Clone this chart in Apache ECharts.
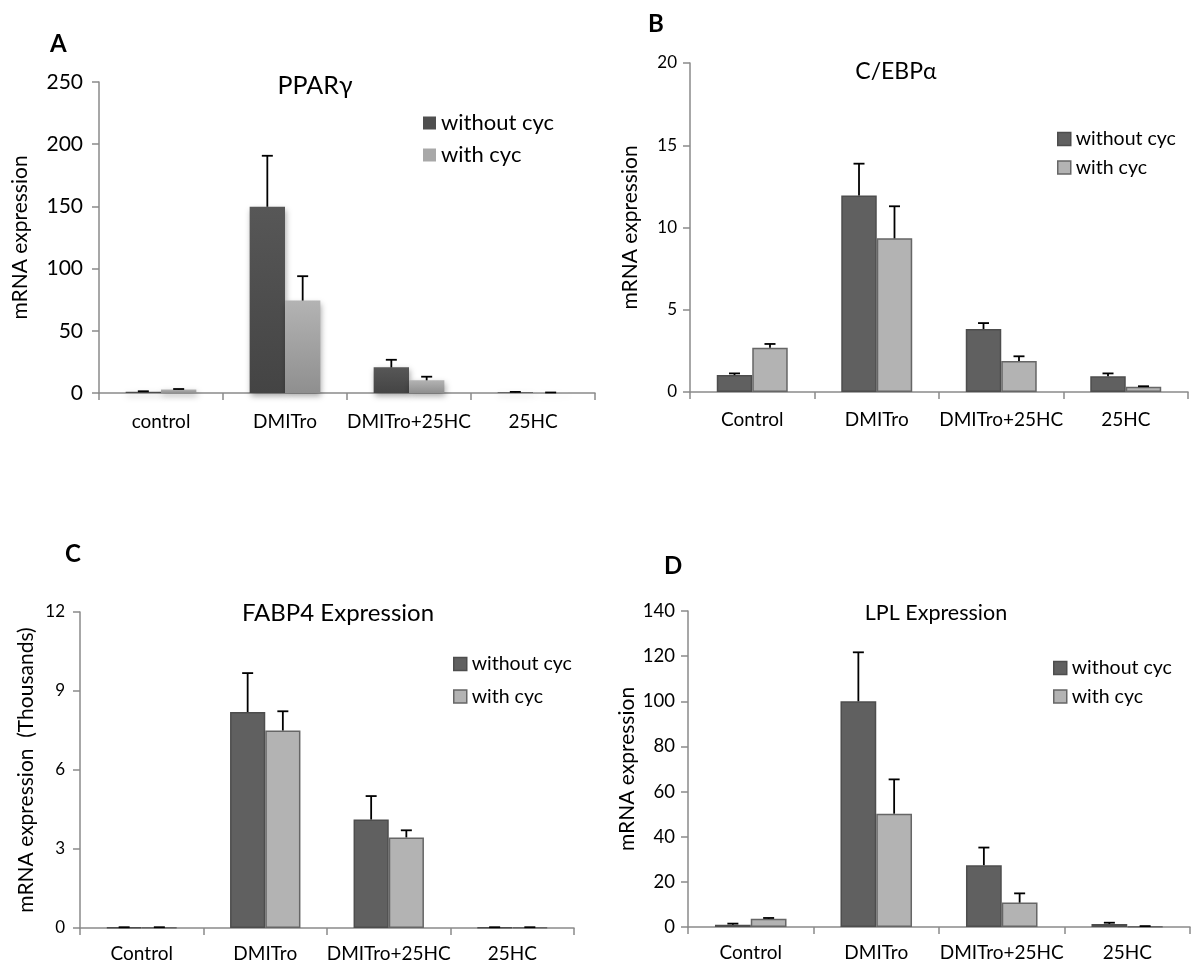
<!DOCTYPE html>
<html>
<head>
<meta charset="utf-8">
<script src="https://cdn.jsdelivr.net/npm/echarts@6/dist/echarts.min.js"></script>
<style>
html,body{margin:0;padding:0;background:#fff;}
#chart{width:1192px;height:966px;}
</style>
</head>
<body>
<div id="chart"></div>
<script>
// ---- data ----
const categoriesA = ['control', 'DMITro', 'DMITro+25HC', '25HC'];
const categoriesBCD = ['Control', 'DMITro', 'DMITro+25HC', '25HC'];
const seriesNames = ['without cyc', 'with cyc'];

const ppargWithout = [1.0, 149.7, 20.6, 0.6];
const ppargWithoutErr = [0.4, 41, 6.1, 0.3];
const ppargWith = [2.9, 74.3, 10.2, 0.3];
const ppargWithErr = [0.3, 19.6, 2.9, 0.1];

const cebpWithout = [1.03, 11.95, 3.83, 0.95];
const cebpWithoutErr = [0.1, 1.93, 0.36, 0.18];
const cebpWith = [2.69, 9.34, 1.88, 0.32];
const cebpWithErr = [0.23, 1.95, 0.29, 0.03];

const fabpWithout = [0.02, 8.2, 4.12, 0.02];
const fabpWithoutErr = [0.01, 1.48, 0.89, 0.01];
const fabpWith = [0.02, 7.5, 3.44, 0.02];
const fabpWithErr = [0.01, 0.73, 0.27, 0.01];

const lplWithout = [1.0, 100, 27.4, 1.3];
const lplWithoutErr = [0.5, 21.7, 7.8, 0.6];
const lplWith = [3.7, 50.2, 10.8, 0.3];
const lplWithErr = [0.3, 15.2, 4.1, 0.1];

// ---- styles ----
const FONT = 'Lato, "Open Sans", sans-serif';
const AXIS_COLOR = '#8a8a8a';
const DARK = '#606060', DARK_BORDER = '#4d4d4d';
const LIGHT = '#b3b3b3', LIGHT_BORDER = '#666666';
const gradDark = new echarts.graphic.LinearGradient(0, 0, 0, 1, [{offset: 0, color: '#575757'}, {offset: 1, color: '#444444'}]);
const gradLight = new echarts.graphic.LinearGradient(0, 0, 0, 1, [{offset: 0, color: '#b3b3b3'}, {offset: 1, color: '#8f8f8f'}]);

const BAR_FRAC = 0.285;

const panels = [
  {letter: 'A', letterPos: [45, 27], title: 'PPARγ', titlePos: [310, 68], titleSize: 25,
   grid: {left: 99, top: 82, width: 496, height: 311},
   cats: categoriesA, max: 250, interval: 50, ySize: 21, yMargin: 16, xSize: 19, xMargin: 19,
   yName: 'mRNA expression', nameGap: 68, nameSize: 21,
   legend: {left: 418, top: 107, size: 22, gap: 10},
   without: ppargWithout, withoutErr: ppargWithoutErr, with: ppargWith, withErr: ppargWithErr, fancy: true},
  {letter: 'B', letterPos: [643, 7], title: 'C/EBPα', titlePos: [891, 55], titleSize: 23,
   grid: {left: 690, top: 63, width: 498, height: 329},
   cats: categoriesBCD, max: 20, interval: 5, ySize: 17, yMargin: 13, xSize: 19, xMargin: 18,
   yName: 'mRNA expression', nameGap: 49, nameSize: 21,
   legend: {left: 1052, top: 124, size: 19.5, gap: 8.5},
   without: cebpWithout, withoutErr: cebpWithoutErr, with: cebpWith, withErr: cebpWithErr, fancy: false},
  {letter: 'C', letterPos: [60, 537], title: 'FABP4 Expression', titlePos: [333, 596], titleSize: 24,
   grid: {left: 80, top: 612, width: 494, height: 316},
   cats: categoriesBCD, max: 12, interval: 3, ySize: 17, yMargin: 15, xSize: 19, xMargin: 16,
   yName: 'mRNA expression  (Thousands)', nameGap: 43, nameSize: 21,
   legend: {left: 448, top: 649, size: 19.5, gap: 12.5},
   without: fabpWithout, withoutErr: fabpWithoutErr, with: fabpWith, withErr: fabpWithErr, fancy: false},
  {letter: 'D', letterPos: [659, 549], title: 'LPL Expression', titlePos: [931, 597], titleSize: 21.5,
   grid: {left: 688, top: 611, width: 502, height: 316},
   cats: categoriesBCD, max: 140, interval: 20, ySize: 18.5, yMargin: 13, xSize: 19, xMargin: 16,
   yName: 'mRNA expression', nameGap: 50, nameSize: 21,
   legend: {left: 1048, top: 653, size: 19.5, gap: 8.5},
   without: lplWithout, withoutErr: lplWithoutErr, with: lplWith, withErr: lplWithErr, fancy: false}
];

function errorRender(side) {
  return function (params, api) {
    const idx = api.value(0);
    const base = api.coord([idx, api.value(1)]);
    const top = api.coord([idx, api.value(1) + api.value(2)]);
    const band = api.size([1, 0])[0];
    const x = base[0] + side * band * BAR_FRAC / 2;
    const cap = 5.5;
    return {
      type: 'group',
      children: [
        {type: 'line', shape: {x1: x, y1: base[1], x2: x, y2: top[1]}, style: {stroke: '#000', lineWidth: 1.8}},
        {type: 'line', shape: {x1: x - cap, y1: top[1], x2: x + cap, y2: top[1]}, style: {stroke: '#000', lineWidth: 1.8}}
      ]
    };
  };
}

const option = {
  animation: false,
  backgroundColor: '#fff',
  title: [], grid: [], xAxis: [], yAxis: [], legend: [], series: []
};

panels.forEach((p, i) => {
  option.title.push({text: p.letter, left: p.letterPos[0], top: p.letterPos[1],
    textStyle: {fontFamily: FONT, fontWeight: 'bold', fontSize: 24, color: '#000'}});
  option.title.push({text: p.title, left: p.titlePos[0], top: p.titlePos[1], textAlign: 'center',
    textStyle: {fontFamily: FONT, fontWeight: 'normal', fontSize: p.titleSize, color: '#000'}});
  option.grid.push(Object.assign({containLabel: false}, p.grid));
  option.xAxis.push({
    type: 'category', gridIndex: i, data: p.cats,
    axisLine: {lineStyle: {color: AXIS_COLOR, width: 1.5}},
    axisTick: {show: true, length: 7, inside: false, lineStyle: {color: AXIS_COLOR, width: 1.5}},
    axisLabel: {fontFamily: FONT, fontSize: p.xSize, color: '#000', margin: p.xMargin, interval: 0}
  });
  option.yAxis.push({
    type: 'value', gridIndex: i, min: 0, max: p.max, interval: p.interval,
    name: p.yName, nameLocation: 'middle', nameRotate: 90, nameGap: p.nameGap,
    nameTextStyle: {fontFamily: FONT, fontSize: p.nameSize, color: '#000'},
    axisLine: {show: true, lineStyle: {color: AXIS_COLOR, width: 1.5}},
    axisTick: {show: true, length: 7, lineStyle: {color: AXIS_COLOR, width: 1.5}},
    splitLine: {show: false},
    axisLabel: {fontFamily: FONT, fontSize: p.ySize, color: '#000', margin: p.yMargin}
  });
  const darkStyle = p.fancy
    ? {color: gradDark, shadowBlur: 6, shadowColor: 'rgba(0,0,0,0.35)', shadowOffsetY: 3, shadowOffsetX: 1}
    : {color: DARK, borderColor: DARK_BORDER, borderWidth: 1.5};
  const lightStyle = p.fancy
    ? {color: gradLight, shadowBlur: 6, shadowColor: 'rgba(0,0,0,0.35)', shadowOffsetY: 3, shadowOffsetX: 1}
    : {color: LIGHT, borderColor: LIGHT_BORDER, borderWidth: 1.5};
  option.series.push({
    name: seriesNames[0], type: 'bar', xAxisIndex: i, yAxisIndex: i,
    data: p.without, barGap: '0%', barCategoryGap: '43%', itemStyle: darkStyle, z: 2
  });
  option.series.push({
    name: seriesNames[1], type: 'bar', xAxisIndex: i, yAxisIndex: i,
    data: p.with, barGap: '0%', barCategoryGap: '43%', itemStyle: lightStyle, z: 2
  });
  option.series.push({
    type: 'custom', xAxisIndex: i, yAxisIndex: i, z: 5,
    encode: {x: 0, y: 1},
    data: p.without.map((v, k) => [k, v, p.withoutErr[k]]),
    renderItem: errorRender(-1)
  });
  option.series.push({
    type: 'custom', xAxisIndex: i, yAxisIndex: i, z: 5,
    encode: {x: 0, y: 1},
    data: p.with.map((v, k) => [k, v, p.withErr[k]]),
    renderItem: errorRender(1)
  });
  const legItemDark = p.fancy ? {color: '#4f4f4f', borderWidth: 0, shadowBlur: 0} : {color: DARK, borderColor: DARK_BORDER, borderWidth: 1.5};
  const legItemLight = p.fancy ? {color: '#a8a8a8', borderWidth: 0, shadowBlur: 0} : {color: LIGHT, borderColor: LIGHT_BORDER, borderWidth: 1.5};
  option.legend.push({
    orient: 'vertical', left: p.legend.left, top: p.legend.top,
    itemWidth: 13, itemHeight: 13, itemGap: p.legend.gap, icon: 'rect',
    selectedMode: false,
    textStyle: {fontFamily: FONT, fontSize: p.legend.size, color: '#000'},
    data: [{name: seriesNames[0], itemStyle: legItemDark}, {name: seriesNames[1], itemStyle: legItemLight}]
  });
});

const chart = echarts.init(document.getElementById('chart'), null, {renderer: 'canvas'});
chart.setOption(option);
</script>
</body>
</html>
